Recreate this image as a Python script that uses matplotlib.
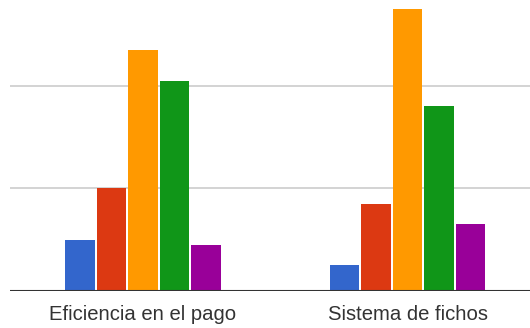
import matplotlib
matplotlib.use("Agg")
import matplotlib.pyplot as plt
import numpy as np

categories = ["Eficiencia en el pago", "Sistema de fichos"]
series_colors = ["#3366cc", "#dc3912", "#ff9900", "#109618", "#990099"]
# one list per series, values for each category
serie_1 = [10, 5]
serie_2 = [20, 17]
serie_3 = [47, 55]
serie_4 = [41, 36]
serie_5 = [9, 13]
series = [serie_1, serie_2, serie_3, serie_4, serie_5]
grid_ticks = [0, 20, 40, 60]

W, H = 530, 328
fig = plt.figure(figsize=(W / 100, H / 100), dpi=100)
ax = fig.add_axes([10 / W, 37 / H, 1 - 10 / W, 1 - 37 / H])

pitch = 0.119
width = 0.1115
x = np.arange(len(categories))
for i, (vals, col) in enumerate(zip(series, series_colors)):
    ax.bar(x + (i - 2) * pitch, vals, width=width, color=col, zorder=3)

ax.set_yticks(grid_ticks)
ax.set_xlim(-0.502, 1.462)
ax.set_ylim(0, 56.7)
ax.yaxis.grid(True, color="#cccccc", linewidth=1.2, zorder=0)
ax.tick_params(axis="y", left=False, labelleft=False)
ax.axhline(0, color="#333333", linewidth=1.5, zorder=4)
for s in ax.spines.values():
    s.set_visible(False)

ax.set_xticks(x)
ax.set_xticklabels(categories, fontsize=14.6, color="#333333", family="Liberation Sans")
ax.tick_params(axis="x", length=0, pad=10)

fig.savefig("out.png", dpi=100)
